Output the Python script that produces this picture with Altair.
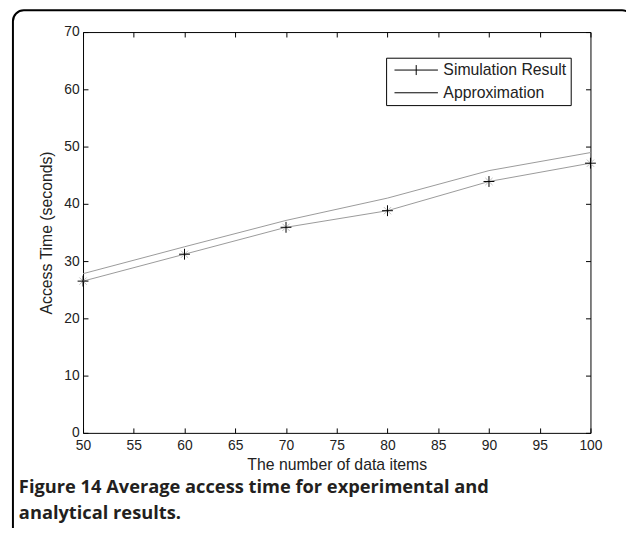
import altair as alt
import pandas as pd

# ---- data ----
x_vals = [50, 60, 70, 80, 90, 100]
sim_vals = [26.5, 31.2, 35.9, 38.8, 43.9, 47.1]
approx_vals = [27.8, 32.5, 37.1, 41.0, 45.8, 48.95]
series_names = ["Simulation Result", "Approximation"]
x_ticks = [50, 55, 60, 65, 70, 75, 80, 85, 90, 95, 100]
y_ticks = [0, 10, 20, 30, 40, 50, 60, 70]
x_title = "The number of data items"
y_title = "Access Time (seconds)"
caption = ["Figure 14 Average access time for experimental and",
           "analytical results."]

rows = []
for name, vals in zip(series_names, [sim_vals, approx_vals]):
    for xv, yv in zip(x_vals, vals):
        rows.append({"series": name, "x": xv, "y": yv})
df = pd.DataFrame(rows)

W, H = 514, 406
FONT = "Liberation Sans"
TXT = "#222222"
xscale = alt.Scale(domain=[50, 100], nice=False, zero=False)
yscale = alt.Scale(domain=[0, 70], nice=False, zero=False)

PLUS = "M-1,0L1,0M0,-1L0,1"
DIAG = "M-0.7,-0.7L0.7,0.7M-0.7,0.7L0.7,-0.7"
LEG_SIM = "M-1,0L1,0M0,-0.23L0,0.23"
LEG_LINE = "M-1,0L1,0"

label_x_axis = alt.Axis(orient="bottom", values=x_ticks, ticks=False, domain=False,
                        grid=False, labelFont=FONT, labelFontSize=14, labelColor=TXT,
                        labelPadding=6, labelFlush=False, title=x_title, titleFont=FONT,
                        titleFontSize=16, titleFontWeight="normal", titleColor=TXT,
                        titlePadding=4)
label_y_axis = alt.Axis(orient="left", values=y_ticks, ticks=False, domain=False,
                        grid=False, labelFont=FONT, labelFontSize=14, labelColor=TXT,
                        labelPadding=4, labelFlush=False, title=y_title, titleFont=FONT,
                        titleFontSize=16, titleFontWeight="normal", titleColor=TXT,
                        titlePadding=9)


def tick_axis(orient, vals):
    return alt.Axis(orient=orient, values=vals, ticks=True, tickSize=5,
                    tickColor="black", tickWidth=1, labels=False, domain=False,
                    grid=False, title=None, offset=-5)


one = pd.DataFrame({"k": [0]})

border = alt.Chart(one).mark_rect(
    fill="transparent", stroke="black", strokeWidth=2, cornerRadius=11
).encode(x=alt.value(13 - 84), x2=alt.value(641 - 84),
         y=alt.value(7 - 29), y2=alt.value(546 - 29))

cap_style = dict(align="left", baseline="alphabetic", font="Open Sans", fontSize=18.5,
                 fontWeight="bold", color="#231f20")
cap1 = alt.Chart(one).mark_text(**cap_style).encode(
    x=alt.value(19 - 84), y=alt.value(496 - 29), text=alt.value(caption[0]))
cap2 = alt.Chart(one).mark_text(**cap_style).encode(
    x=alt.value(19 - 84), y=alt.value(522 - 29), text=alt.value(caption[1]))

base = alt.Chart(df)

lines = base.mark_line(color="#999999", strokeWidth=1).encode(
    x=alt.X("x:Q", scale=xscale, axis=label_x_axis),
    y=alt.Y("y:Q", scale=yscale, axis=label_y_axis),
    detail="series:N",
)

sim_only = base.transform_filter(alt.datum.series == series_names[0])

diag = sim_only.mark_point(shape=DIAG, size=110, filled=False, stroke="#bdbdbd",
                           strokeWidth=1, opacity=1).encode(
    x=alt.X("x:Q", scale=xscale, axis=tick_axis("top", x_ticks)),
    y=alt.Y("y:Q", scale=yscale, axis=tick_axis("right", y_ticks)),
)

plus = sim_only.mark_point(shape=PLUS, size=121, filled=False, stroke="black",
                           strokeWidth=1, opacity=1).encode(
    x=alt.X("x:Q", scale=xscale, axis=tick_axis("bottom", x_ticks)),
    y=alt.Y("y:Q", scale=yscale, axis=tick_axis("left", y_ticks)),
)

legend_layer = base.mark_point(filled=False, opacity=0).encode(
    x=alt.X("x:Q", scale=xscale, axis=None),
    y=alt.Y("y:Q", scale=yscale, axis=None),
    shape=alt.Shape("series:N",
                    scale=alt.Scale(domain=series_names, range=[LEG_SIM, LEG_LINE]),
                    legend=alt.Legend(title=None, orient="none", legendX=307, legendY=26,
                                      symbolSize=1936, symbolStrokeWidth=1,
                                      symbolStrokeColor="black",
                                      symbolFillColor="transparent", symbolOpacity=1,
                                      clipHeight=17, rowPadding=6, padding=4,
                                      symbolOffset=4, labelOffset=5, labelFont=FONT,
                                      labelFontSize=16, labelColor=TXT, labelLimit=300,
                                      strokeColor="black", fillColor="white")),
)

chart = alt.layer(border, cap1, cap2, lines, diag, plus, legend_layer).resolve_axis(
    x="independent", y="independent"
).properties(
    width=W, height=H,
    autosize=alt.AutoSizeParams(type="none"),
    padding={"left": 76, "top": 21, "right": 36, "bottom": 93},
).configure_view(stroke="black", strokeWidth=1)

chart.save("out.html", embed_options={"renderer": "svg", "actions": False})
